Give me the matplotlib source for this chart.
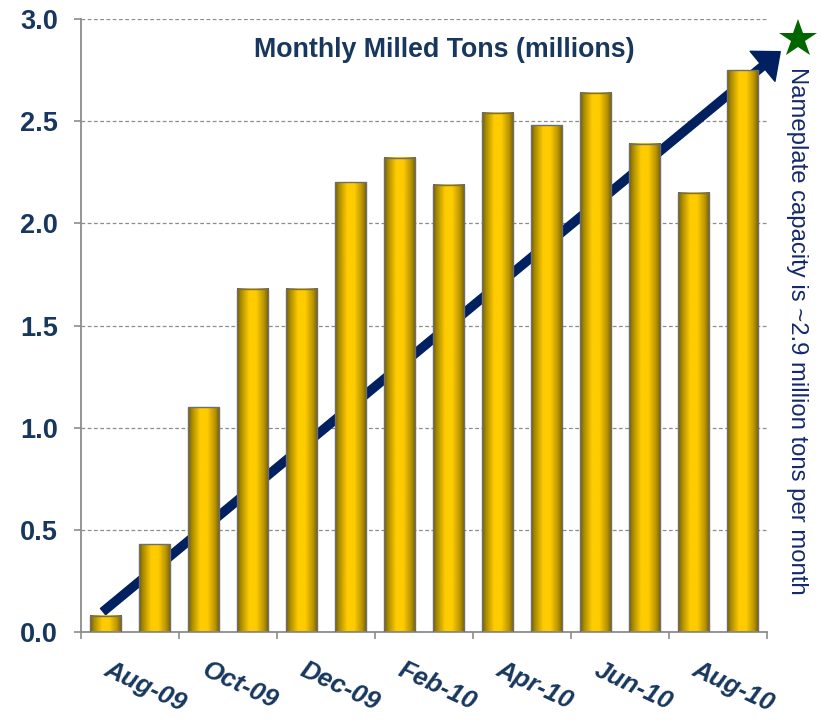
import numpy as np
import matplotlib
matplotlib.use('Agg')
import matplotlib.pyplot as plt
from matplotlib.colors import LinearSegmentedColormap
from matplotlib.patches import FancyArrowPatch, ArrowStyle

plt.rcParams['font.family'] = ['Liberation Sans', 'DejaVu Sans']

# datos
meses = ['Aug-09', 'Sep-09', 'Oct-09', 'Nov-09', 'Dec-09', 'Jan-10', 'Feb-10',
         'Mar-10', 'Apr-10', 'May-10', 'Jun-10', 'Jul-10', 'Aug-10', 'Sep-10']
toneladas = [0.08, 0.43, 1.10, 1.68, 1.68, 2.20, 2.32, 2.19, 2.54, 2.48, 2.64, 2.39, 2.15, 2.75]
capacidad = 2.9
flecha_inicio = (-0.05, 0.10)
flecha_fin = (13.77, 2.84)

azul_texto = '#17375E'
azul_flecha = '#002060'
gris = '#8C8C8C'

fig = plt.figure(figsize=(8.21, 7.2), dpi=100)
ax = fig.add_axes([81 / 821, 88 / 720, 686 / 821, 613 / 720])

x = np.arange(len(meses))
ancho = 0.64

# barras con degradado dorado
oro = LinearSegmentedColormap.from_list('oro', [
    (0.0, '#6E5A08'), (0.12, '#A88A00'), (0.38, '#FFCC00'),
    (0.6, '#FFCC00'), (0.85, '#B89400'), (1.0, '#6E5A08')])
grad = np.linspace(0, 1, 256).reshape(1, -1)
barras = ax.bar(x, toneladas, width=ancho, facecolor='none',
                edgecolor='#6E6E6E', linewidth=1.0, zorder=3)
for b in barras:
    x0 = b.get_x()
    ax.imshow(grad, extent=[x0, x0 + b.get_width(), 0, b.get_height()],
              aspect='auto', cmap=oro, interpolation='bicubic', zorder=2)

# flecha de tendencia (detras de las barras)
estilo = ArrowStyle.Simple(head_length=16.5, head_width=28, tail_width=5.8)
flecha = FancyArrowPatch(flecha_inicio, flecha_fin, arrowstyle=estilo,
                         mutation_scale=1, color=azul_flecha, shrinkA=0,
                         shrinkB=0, zorder=1, clip_on=False)
ax.add_patch(flecha)

# estrella de capacidad
ax.plot([14.14], [capacidad], marker='*', ms=29, color='#006600',
        markeredgewidth=0, clip_on=False, zorder=5)

ax.set_xlim(-0.5, len(meses) - 0.5)
ax.set_ylim(0, 3.0)

# ejes
for s in ['top', 'right']:
    ax.spines[s].set_visible(False)
for s in ['left', 'bottom']:
    ax.spines[s].set_color(gris)
    ax.spines[s].set_linewidth(1.3)

ax.set_yticks(np.arange(0, 3.01, 0.5))
ax.set_yticklabels([f'{v:.1f}' for v in np.arange(0, 3.01, 0.5)])
ax.yaxis.grid(True, linestyle=(0, (3, 2)), color='#8C8C8C', linewidth=0.9)
ax.set_axisbelow(True)
ax.tick_params(axis='y', length=5, width=1.2, color=gris, pad=11.5,
               labelsize=19.5, labelcolor=azul_texto)
for t in ax.get_yticklabels():
    t.set_fontweight('bold')

ax.set_xticks(np.arange(-0.5, len(meses), 2))
ax.set_xticklabels([])
ax.tick_params(axis='x', length=5, width=1.2, color=gris)

for i in range(0, len(meses), 2):
    ax.text(i + 0.1, -0.042, meses[i], transform=ax.get_xaxis_transform(),
            rotation=-25, rotation_mode='anchor', ha='left', va='top',
            fontsize=18.5, fontweight='bold', fontstyle='italic', color=azul_texto)

# titulo dentro del grafico
ax.text(0.53, 0.938, 'Monthly Milled Tons (millions)', transform=ax.transAxes,
        ha='center', va='baseline', fontsize=19.3, fontweight='bold', color=azul_texto)

fig.text(797 / 821, 1 - 331 / 720, 'Nameplate capacity is ~2.9 million tons per month',
         rotation=-90, ha='center', va='center', fontsize=17.2, color='#14286E')

fig.savefig('out.png', dpi=100)
